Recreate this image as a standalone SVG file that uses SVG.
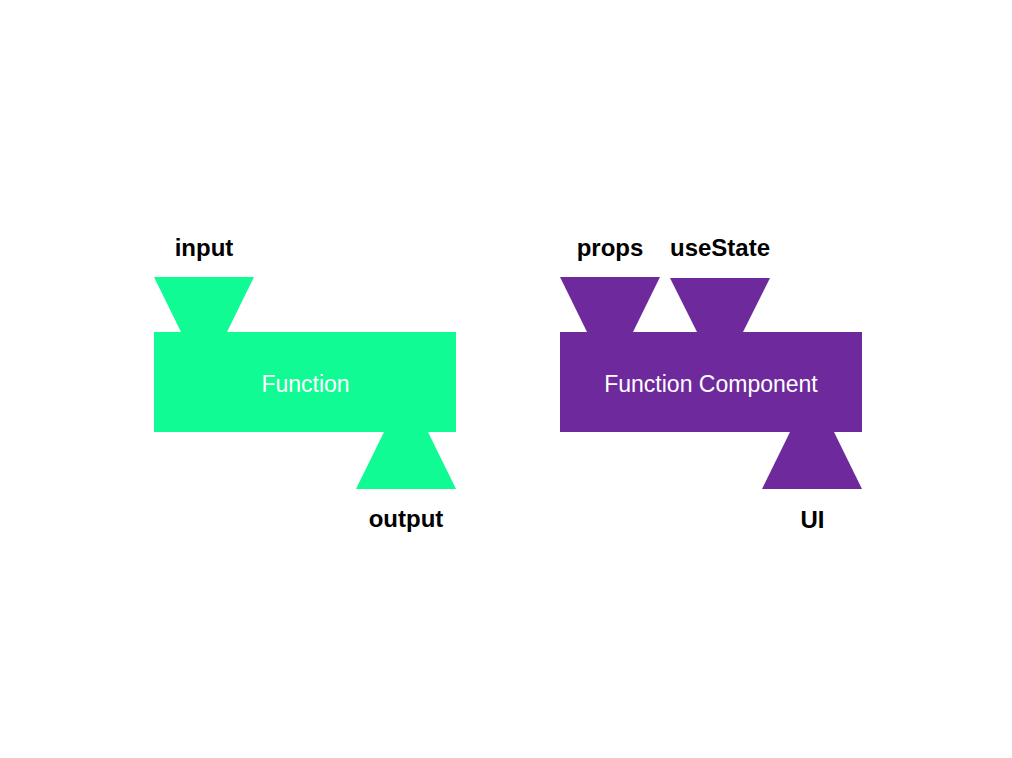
<svg xmlns="http://www.w3.org/2000/svg" width="1012" height="758" viewBox="0 0 1012 758">
<style>
.g{fill:#11FB94}
.p{fill:#6E2A9D}
.lbl{font-family:"Liberation Sans",Arial,sans-serif;font-weight:bold;font-size:24px;fill:#000;text-anchor:middle}
.in{font-family:"Liberation Sans",Arial,sans-serif;font-size:23px;fill:#fff;text-anchor:middle}
</style>
<rect width="1012" height="758" fill="#fff"/>
<g id="function">
<polygon class="g" points="154,277 254,277 227,332 181,332"/>
<rect class="g" x="154" y="332" width="302" height="100"/>
<polygon class="g" points="384,432 428,432 456,489 356,489"/>
<text class="in" x="305.5" y="392">Function</text>
</g>
<g id="function-component">
<polygon class="p" points="560,277 660,277 633,332 587,332"/>
<polygon class="p" points="670,278 770,278 743,332 697,332"/>
<rect class="p" x="560" y="332" width="302" height="100"/>
<polygon class="p" points="790,432 834,432 862,489 762,489"/>
<text class="in" x="711" y="392">Function Component</text>
</g>
<g id="labels">
<text class="lbl" x="204" y="256">input</text>
<text class="lbl" x="406" y="527">output</text>
<text class="lbl" x="610" y="256">props</text>
<text class="lbl" x="720" y="256">useState</text>
<text class="lbl" x="812.5" y="528">UI</text>
</g>
<g id="connectors"/>
</svg>
